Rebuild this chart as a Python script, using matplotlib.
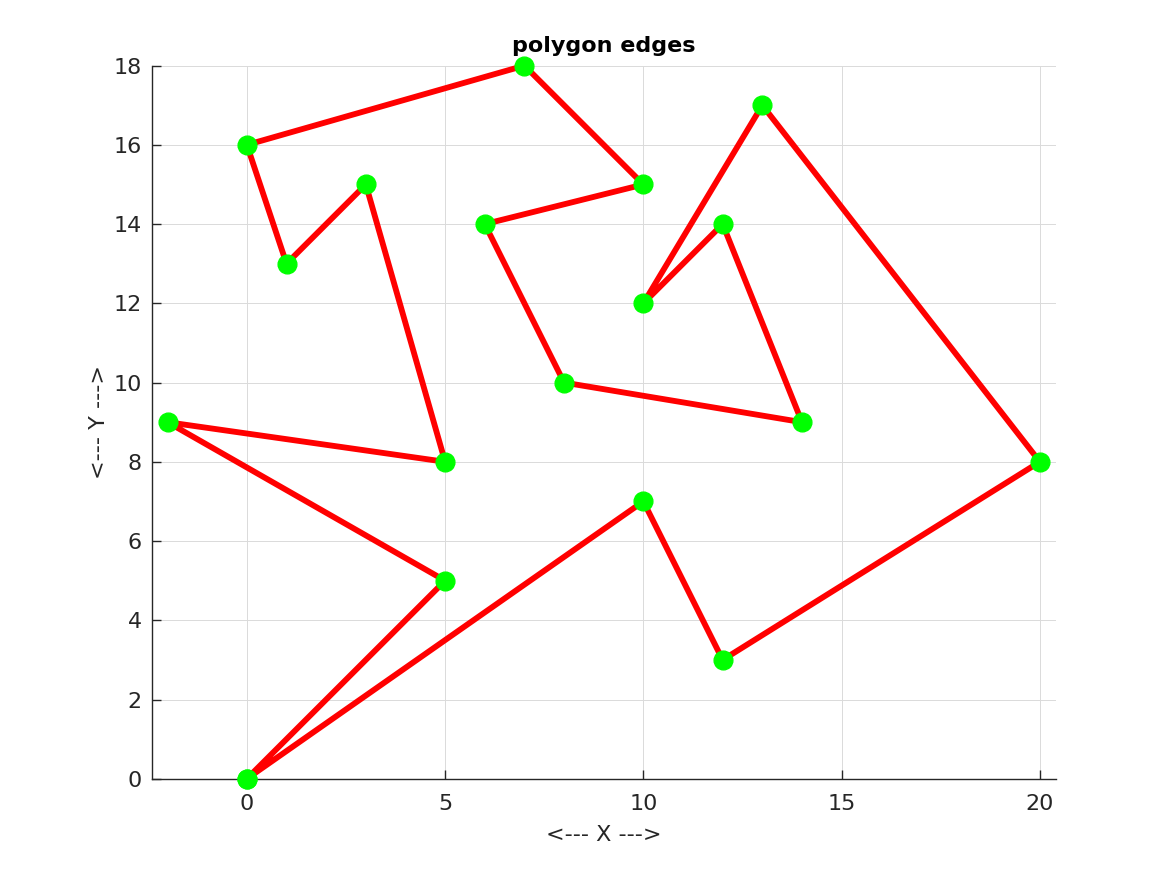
import numpy as np
import matplotlib.pyplot as plt

# polygon vertices in drawing order (closed back to the first)
xs = [0, 5, -2, 5, 3, 1, 0, 7, 10, 6, 8, 14, 12, 10, 13, 20, 12, 10, 0]
ys = [0, 5, 9, 8, 15, 13, 16, 18, 15, 14, 10, 9, 14, 12, 17, 8, 3, 7, 0]

xticks = [0, 5, 10, 15, 20]
yticks = [0, 2, 4, 6, 8, 10, 12, 14, 16, 18]

plt.rcParams['font.family'] = 'DejaVu Sans'
txt = '#262626'

fig = plt.figure(figsize=(11.67, 8.75), dpi=100)
ax = fig.add_axes([0.13, 0.11, 0.775, 0.815])

ax.plot(xs, ys, color='red', linewidth=4.2, zorder=3, clip_on=False)
ax.plot(xs, ys, linestyle='none', marker='o', markersize=13.5,
        markerfacecolor=(0, 1, 0), markeredgecolor=(0, 1, 0), zorder=4,
        clip_on=False)

ax.set_xlim(-2.4, 20.41)
ax.set_ylim(0, 18)
ax.set_xticks(xticks)
ax.set_yticks(yticks)
ax.grid(True, color='#dadada', linewidth=0.7)
ax.set_axisbelow(True)

ax.spines['top'].set_visible(False)
ax.spines['right'].set_visible(False)
for s in ['left', 'bottom']:
    ax.spines[s].set_color(txt)
    ax.spines[s].set_linewidth(1.0)
ax.tick_params(direction='in', length=6.5, width=1.0, colors=txt,
               labelsize=16, pad=7)
ax.tick_params(axis='x', pad=11)

ax.set_title('polygon edges', fontsize=16, fontweight='bold', pad=10)
ax.set_xlabel('<--- X --->', fontsize=16, color=txt, labelpad=8)
ax.set_ylabel('<--- Y --->', fontsize=16, color=txt, labelpad=3)

plt.savefig('out.png', dpi=100)
